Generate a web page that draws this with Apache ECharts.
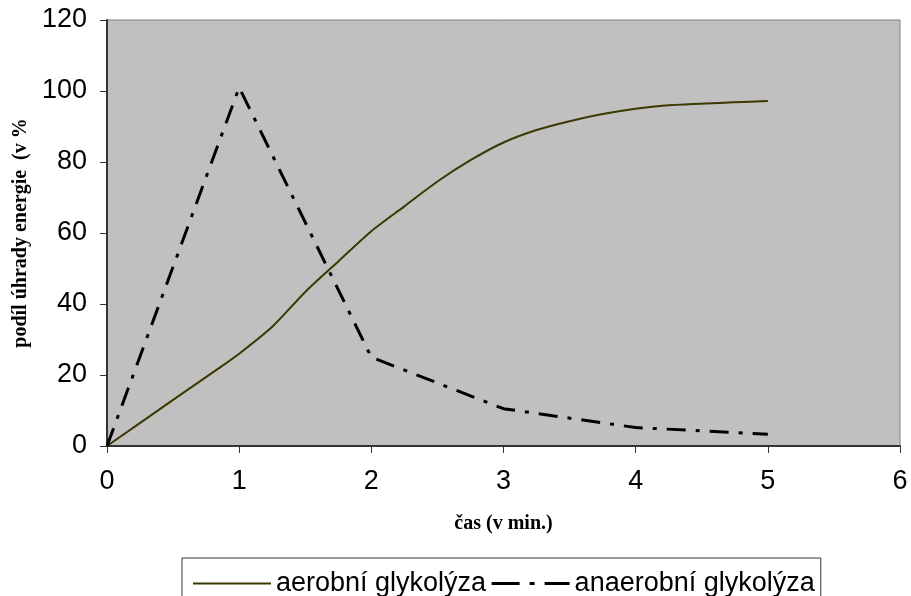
<!doctype html>
<html>
<head>
    <meta charset="utf-8">
    <title>glykolyza</title>
    <script src="https://cdn.jsdelivr.net/npm/echarts@6/dist/echarts.min.js"></script>
    <style>
        body { margin: 0; background: #fff; }
    </style>
</head>
<body>
<div id="chart" style="width: 911px; height: 596px;"></div>
<script>
// values (cas v min. / podil v %)
var aerobX = [0, 0.5, 0.85, 1, 1.25, 1.5, 1.75, 2, 2.25, 2.5, 2.75, 3, 3.25, 3.5, 3.75, 4, 4.25, 5]
var aerobY = [0, 13, 22, 26, 33.6, 43.4, 52, 60.5, 67.5, 74.5, 80.5, 85.5, 89, 91.5, 93.5, 95, 96, 97.2]
var anaerobX = [0, 1, 2, 3, 4, 5]
var anaerobY = [0, 101, 25, 10.5, 5.2, 3.3]
var xTicks = [0, 1, 2, 3, 4, 5, 6]
var yTicks = [0, 20, 40, 60, 80, 100, 120]
var names = ['aerobní glykolýza', 'anaerobní glykolýza']

function pairs(xs, ys) {
    return xs.map(function (x, i) { return [x, ys[i]] })
}

var tickFont = {
    color: '#000',
    fontFamily: 'Liberation Sans, Arial, sans-serif',
    fontSize: 27
}
var titleFont = {
    color: '#000',
    fontFamily: 'Liberation Serif, Times New Roman, serif',
    fontWeight: 'bold',
    fontSize: 20
}

var option = {
    animation: false,
    grid: {
        left: 107,
        right: 11,
        top: 20,
        bottom: 150,
        show: true,
        backgroundColor: '#c0c0c0',
        borderColor: '#808080',
        borderWidth: 1
    },
    xAxis: {
        type: 'value',
        min: xTicks[0],
        max: xTicks[xTicks.length - 1],
        interval: 1,
        name: 'čas (v min.)',
        nameLocation: 'middle',
        nameGap: 68,
        nameTextStyle: titleFont,
        splitLine: { show: false },
        axisLine: { lineStyle: { color: '#333', width: 2 } },
        axisTick: { show: true, length: 7, lineStyle: { color: '#333', width: 1 } },
        axisLabel: Object.assign({ margin: 22 }, tickFont)
    },
    yAxis: {
        type: 'value',
        min: yTicks[0],
        max: yTicks[yTicks.length - 1],
        interval: 20,
        name: 'podíl úhrady energie  (v %',
        nameLocation: 'middle',
        nameGap: 72,
        nameTextStyle: titleFont,
        splitLine: { show: false },
        axisLine: { show: true, lineStyle: { color: '#333', width: 2 } },
        axisTick: { show: true, length: 7, lineStyle: { color: '#333', width: 1 } },
        axisLabel: Object.assign({ margin: 20 }, tickFont)
    },
    legend: {
        left: 182,
        top: 558,
        padding: [12, 6, 14, 10],
        itemGap: 4,
        itemWidth: 78,
        itemHeight: 18,
        borderColor: '#333',
        borderWidth: 1,
        backgroundColor: '#fff',
        textStyle: tickFont,
        data: [
            { name: names[0], itemStyle: { opacity: 0 } },
            {
                name: names[1],
                itemStyle: { opacity: 0 },
                lineStyle: { color: '#000', width: 3, type: [28, 10, 5, 10, 25] }
            }
        ]
    },
    series: [
        {
            name: names[0],
            type: 'line',
            symbol: 'none',
            smooth: 0.25,
            lineStyle: { color: '#3b3800', width: 2 },
            itemStyle: { color: '#3b3800' },
            data: pairs(aerobX, aerobY)
        },
        {
            name: names[1],
            type: 'line',
            symbol: 'none',
            lineStyle: { color: '#000', width: 3, type: [19, 10, 4, 10] },
            itemStyle: { color: '#000' },
            data: pairs(anaerobX, anaerobY)
        }
    ]
}

window.onload = function () {
    var myChart = echarts.init(document.getElementById('chart'))
    myChart.setOption(option)
}
</script>
</body>
</html>
